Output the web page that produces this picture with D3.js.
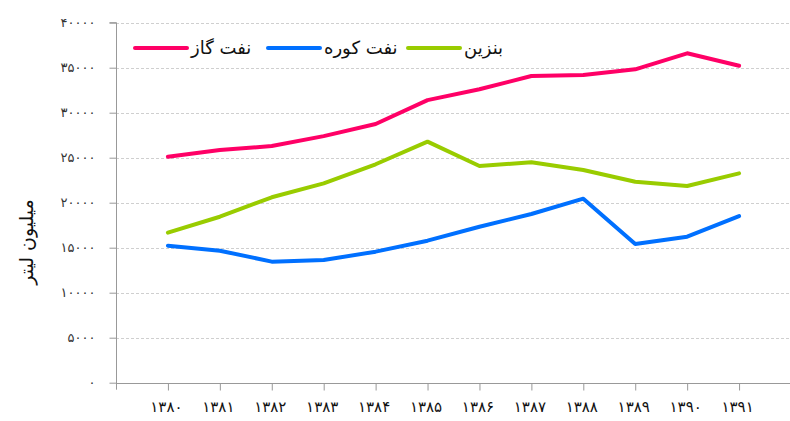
<!DOCTYPE html>
<html>
<head>
<meta charset="utf-8">
<script src="https://cdnjs.cloudflare.com/ajax/libs/d3/7.8.5/d3.min.js"></script>
<style>
  html, body { margin: 0; padding: 0; background: #fff; }
  svg { display: block; font-family: "DejaVu Sans", sans-serif; }
</style>
</head>
<body>
<svg id="chart" width="790" height="421"></svg>
<script>
// سال‌ها
const years = [1380, 1381, 1382, 1383, 1384, 1385, 1386, 1387, 1388, 1389, 1390, 1391];

// مصرف (میلیون لیتر)
const naftGaz   = [25100, 25850, 26300, 27400, 28750, 31400, 32600, 34080, 34190, 34820, 36600, 35220];
const naftKoreh = [15220, 14670, 13450, 13630, 14560, 15780, 17330, 18740, 20450, 15410, 16220, 18520];
const benzin    = [16670, 18440, 20600, 22150, 24270, 26780, 24080, 24490, 23630, 22330, 21860, 23260];

const yTicks = [0, 5000, 10000, 15000, 20000, 25000, 30000, 35000, 40000];

const seriesNames = ['نفت گاز', 'نفت کوره', 'بنزین'];
const seriesColors = ['#ff0066', '#0070ff', '#99cc00'];
const seriesData = [naftGaz, naftKoreh, benzin];

const fa = s => String(s).replace(/\d/g, d => '۰۱۲۳۴۵۶۷۸۹'[+d]);

const svg = d3.select('#chart');

const plotLeft = 116, plotRight = 790, plotTop = 22.7, plotBottom = 382.7;

// x: one empty slot before the first year, one after the last
const x = d3.scaleLinear().domain([-1, years.length]).range([plotLeft, plotRight + 1]);
const y = d3.scaleLinear().domain([0, 40000]).range([plotBottom, plotTop]);

// grid
svg.append('g')
    .selectAll('line')
    .data(yTicks.filter(v => v > 0))
    .enter()
    .append('line')
    .attr('x1', plotLeft)
    .attr('x2', plotRight)
    .attr('y1', d => Math.round(y(d)) + 0.5)
    .attr('y2', d => Math.round(y(d)) + 0.5)
    .attr('stroke', '#cfcfcf')
    .attr('stroke-dasharray', '3,2')
    .attr('stroke-width', 1);

// y axis
const yAxis = svg.append('g')
    .attr('transform', `translate(${plotLeft + 0.5},0)`)
    .call(d3.axisLeft(y).tickValues(yTicks).tickSize(7).tickPadding(14).tickFormat(fa));
yAxis.select('.domain').attr('stroke', '#999').attr('d', `M-7,${y(40000)}H0V${plotBottom + 7}`);
yAxis.selectAll('.tick line').attr('stroke', '#999');
yAxis.selectAll('.tick text')
    .attr('fill', '#333')
    .style('font-size', '13px')
    .style('font-family', '"DejaVu Sans", sans-serif');

// x axis
const xAxis = svg.append('g')
    .attr('transform', `translate(0,${Math.round(plotBottom) + 0.5})`)
    .call(d3.axisBottom(x)
        .tickValues(d3.range(years.length))
        .tickSize(7)
        .tickPadding(11)
        .tickFormat(i => fa(years[i])));
xAxis.select('.domain').attr('stroke', '#999').attr('d', `M${plotLeft},0H${plotRight}`);
xAxis.selectAll('.tick line').attr('stroke', '#999');
xAxis.selectAll('.tick text')
    .attr('fill', '#111')
    .attr('dx', '-2')
    .style('font-size', '15px')
    .style('font-family', '"DejaVu Sans", sans-serif');

// lines
const line = d3.line()
    .x((d, i) => x(i))
    .y(d => y(d));

svg.append('g')
    .selectAll('path')
    .data(seriesData)
    .enter()
    .append('path')
    .attr('d', line)
    .attr('fill', 'none')
    .attr('stroke', (d, i) => seriesColors[i])
    .attr('stroke-width', 4)
    .attr('stroke-linejoin', 'round')
    .attr('stroke-linecap', 'round');

// legend
const legendX = [135, 268, 408];
const legend = svg.append('g')
    .selectAll('g')
    .data(seriesNames)
    .enter()
    .append('g')
    .attr('transform', (d, i) => `translate(${legendX[i]},48)`);

legend.append('line')
    .attr('x1', 0)
    .attr('x2', 52)
    .attr('stroke', (d, i) => seriesColors[i])
    .attr('stroke-width', 4)
    .attr('stroke-linecap', 'round');

legend.append('text')
    .attr('x', 56)
    .attr('y', 6)
    .attr('direction', 'rtl')
    .attr('text-anchor', 'end')
    .attr('fill', '#111')
    .style('font-size', '18px')
    .text(d => d);

// y title
svg.append('text')
    .attr('transform', 'translate(33,242) rotate(-90)')
    .attr('text-anchor', 'middle')
    .attr('fill', '#111')
    .style('font-size', '19px')
    .text('میلیون لیتر');
</script>
</body>
</html>
